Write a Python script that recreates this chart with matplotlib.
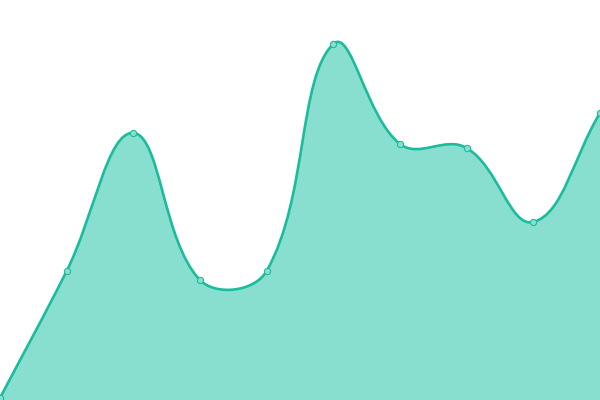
import numpy as np
import matplotlib
matplotlib.use("Agg")
import matplotlib.pyplot as plt
from matplotlib.path import Path
from matplotlib.patches import PathPatch

# values (0..400 scale)
values = [2, 129, 267, 120, 129, 356, 256, 252, 178, 287]
tension = 0.4

line_color = "#1abc9c"
fill_color = "#89dfcf"

x = np.linspace(0, 600, len(values))
y = np.array(values, dtype=float)
pts = np.column_stack([x, y])


def spline_controls(pts, t):
    # chart.js-style cardinal spline control points
    n = len(pts)
    ctrl = []
    for i in range(n):
        prev = pts[i - 1] if i > 0 else pts[i]
        cur = pts[i]
        nxt = pts[i + 1] if i < n - 1 else pts[i]
        d01 = np.hypot(*(cur - prev))
        d12 = np.hypot(*(nxt - cur))
        tot = d01 + d12
        s01 = d01 / tot if tot else 0
        s12 = d12 / tot if tot else 0
        fa, fb = t * s01, t * s12
        c_prev = cur - fa * (nxt - prev)
        c_next = cur + fb * (nxt - prev)
        c_prev[1] = np.clip(c_prev[1], 0, 400)
        c_next[1] = np.clip(c_next[1], 0, 400)
        ctrl.append((c_prev, c_next))
    return ctrl


ctrl = spline_controls(pts, tension)
verts = [pts[0]]
codes = [Path.MOVETO]
for i in range(len(pts) - 1):
    verts += [ctrl[i][1], ctrl[i + 1][0], pts[i + 1]]
    codes += [Path.CURVE4] * 3

fig = plt.figure(figsize=(6, 4), dpi=100)
ax = fig.add_axes([0, 0, 1, 1])
ax.set_xlim(0, 600)
ax.set_ylim(0, 400)
ax.axis("off")

area_verts = verts + [(x[-1], 0), (x[0], 0), pts[0]]
area_codes = codes + [Path.LINETO, Path.LINETO, Path.CLOSEPOLY]
ax.add_patch(PathPatch(Path(area_verts, area_codes), facecolor=fill_color,
                       edgecolor="none"))
ax.add_patch(PathPatch(Path(verts, codes), facecolor="none",
                       edgecolor=line_color, linewidth=1.9))
ax.plot(x, y, "o", markersize=4.5, markerfacecolor=fill_color,
        markeredgecolor=line_color, markeredgewidth=0.8, clip_on=False)

fig.savefig("out.png", dpi=100)
